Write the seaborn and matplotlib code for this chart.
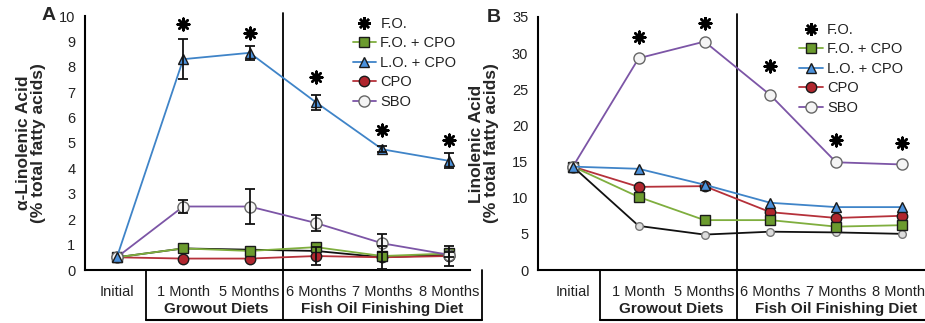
import numpy as np
import pandas as pd
import matplotlib
matplotlib.use("Agg")
import matplotlib.pyplot as plt
import seaborn as sns
from matplotlib.lines import Line2D

sns.set_style("white")
plt.rcParams['font.family'] = ['Liberation Sans', 'DejaVu Sans']

periods = ["Initial", "1 Month", "5 Months", "6 Months", "7 Months", "8 Months"]
series_names = ["F.O.", "F.O. + CPO", "L.O. + CPO", "CPO", "SBO"]

# Panel A: alpha-linolenic acid
a_fo = [0.5, 0.85, 0.8, 0.75, 0.5, 0.6]
a_focpo = [0.5, 0.85, 0.75, 0.9, 0.55, 0.65]
a_locpo = [0.5, 8.3, 8.55, 6.6, 4.75, 4.3]
a_cpo = [0.5, 0.45, 0.45, 0.55, 0.5, 0.55]
a_sbo = [0.5, 2.5, 2.5, 1.85, 1.05, 0.6]
a_err_locpo = [0, 0.8, 0.28, 0.3, 0.12, 0.3]
a_err_sbo = [0, 0.25, 0.68, 0.32, 0.35, 0.1]
a_err_cpo = [0, 0, 0, 0.35, 0.45, 0.4]
a_star = [None, 9.7, 9.35, 7.6, 5.5, 5.1]

# Panel B: linoleic acid
b_fo = [14.3, 6.1, 4.9, 5.3, 5.2, 5.0]
b_focpo = [14.3, 10.1, 6.9, 6.9, 6.0, 6.2]
b_locpo = [14.3, 14.0, 11.8, 9.3, 8.7, 8.7]
b_cpo = [14.3, 11.5, 11.6, 8.0, 7.2, 7.5]
b_sbo = [14.3, 29.3, 31.6, 24.2, 14.9, 14.6]
b_star = [None, 32.3, 34.2, 28.2, 18.0, 17.6]

groups = ["Growout Diets", "Fish Oil Finishing Diet"]

styles = {
    "F.O.": dict(color="#111111", marker="o", mfc="#dddddd", mec="#777777", ms=5.5, lw=1.3),
    "F.O. + CPO": dict(color="#7fae3e", marker="s", mfc="#6b9b2e", mec="#1a1a1a", ms=7.5, lw=1.3),
    "L.O. + CPO": dict(color="#3f84c8", marker="^", mfc="#4b91db", mec="#1a1a1a", ms=7.5, lw=1.3),
    "CPO": dict(color="#b5313a", marker="o", mfc="#b0262e", mec="#1a1a1a", ms=7.5, lw=1.3),
    "SBO": dict(color="#7c55a6", marker="o", mfc="#f4f4f4", mec="#666666", ms=8, lw=1.3),
}

W, H = 925, 323
fig = plt.figure(figsize=(W / 100, H / 100), dpi=100)

def px_axes(l, r, t, b):
    return fig.add_axes([l / W, 1 - b / H, (r - l) / W, (b - t) / H])

axA = px_axes(85, 470, 16, 270)
axB = px_axes(538, 925, 17, 270)

def draw(ax, data, errs, stars, ymax, ystep, xlim, ylabel, letter, letter_x, box_left, box_right, leg_anchor):
    x = np.arange(len(periods))
    order = ["F.O.", "CPO", "F.O. + CPO", "SBO", "L.O. + CPO"]
    for name in order:
        st = styles[name]
        df = pd.DataFrame({"period": x, "value": data[name]})
        sns.lineplot(data=df, x="period", y="value", ax=ax, color=st["color"], lw=st["lw"],
                     marker=st["marker"], markersize=st["ms"], markerfacecolor=st["mfc"],
                     markeredgecolor=st["mec"], markeredgewidth=1.0, zorder=3)
        if name in errs:
            e = np.array(errs[name])
            m = e > 0
            ax.errorbar(x[m], np.array(data[name])[m], yerr=e[m], fmt="none", ecolor="#111111",
                        elinewidth=1.3, capsize=3.5, capthick=1.3, zorder=4)
    sx = [i for i, s in enumerate(stars) if s is not None]
    sy = [s for s in stars if s is not None]
    ax.scatter(sx, sy, marker=(8, 2, 0), s=70, color="black", linewidths=1.8, zorder=5)

    ax.set_xlim(*xlim)
    ax.set_ylim(0, ymax)
    ax.set_yticks(np.arange(0, ymax + 0.1, ystep))
    ax.set_xticks(x)
    ax.set_xticklabels(periods)
    ax.set_xlabel("")
    ax.set_ylabel(ylabel, fontsize=12.5, fontweight="bold", labelpad=9, linespacing=1.0)
    for s in ["top", "right"]:
        ax.spines[s].set_visible(False)
    for s in ["left", "bottom"]:
        ax.spines[s].set_linewidth(1.5)
        ax.spines[s].set_color("black")
    ax.tick_params(axis="both", direction="out", length=5, width=1.3, color="black",
                   labelsize=10.5, labelcolor="#222222")
    ax.tick_params(axis="x", pad=6)
    ax.tick_params(axis="y", pad=2)

    tr = ax.get_xaxis_transform()
    ybot = -0.197
    ax.plot([2.5, 2.5], [ybot, 1.012], transform=tr, color="black", lw=1.3, clip_on=False)
    ax.plot([box_left, box_left], [0, ybot], transform=tr, color="black", lw=1.3, clip_on=False)
    ax.plot([box_left, box_right], [ybot, ybot], transform=tr, color="black", lw=1.5, clip_on=False)
    ax.plot([box_right, box_right], [0, ybot], transform=tr, color="black", lw=1.3, clip_on=False)
    ax.text(1.5, -0.155, groups[0], transform=tr, ha="center", va="center",
            fontsize=11, fontweight="bold", color="#222222")
    ax.text(4.0, -0.155, groups[1], transform=tr, ha="center", va="center",
            fontsize=11, fontweight="bold", color="#222222")
    ax.text(letter_x, 1.0, letter, transform=ax.transAxes, ha="center", va="center",
            fontsize=14, fontweight="bold")

    handles = [Line2D([], [], lw=0, marker=(8, 2, 0), ms=9, color="black", mew=1.8)]
    for name in series_names[1:]:
        st = styles[name]
        handles.append(Line2D([], [], color=st["color"], lw=st["lw"], marker=st["marker"],
                              ms=st["ms"], mfc=st["mfc"], mec=st["mec"], mew=1.0))
    leg = ax.legend(handles, series_names, loc="upper left", bbox_to_anchor=leg_anchor,
                    frameon=False, fontsize=10.5, handlelength=1.6, handletextpad=0.3,
                    labelspacing=0.38, borderaxespad=0)
    for t in leg.get_texts():
        t.set_color("#222222")

dataA = {"F.O.": a_fo, "F.O. + CPO": a_focpo, "L.O. + CPO": a_locpo, "CPO": a_cpo, "SBO": a_sbo}
errA = {"L.O. + CPO": a_err_locpo, "SBO": a_err_sbo, "CPO": a_err_cpo}
dataB = {"F.O.": b_fo, "F.O. + CPO": b_focpo, "L.O. + CPO": b_locpo, "CPO": b_cpo, "SBO": b_sbo}

draw(axA, dataA, errA, a_star, 10, 1, (-0.48, 5.32),
     "α-Linolenic Acid\n(% total fatty acids)", "A", -0.095, 0.44, 5.5, (0.68, 1.02))
draw(axB, dataB, {}, b_star, 35, 5, (-0.53, 5.35),
     "Linolenic Acid\n(% total fatty acids)", "B", -0.115, 0.41, 5.5, (0.66, 1.0))

fig.savefig("out.png", dpi=100)
